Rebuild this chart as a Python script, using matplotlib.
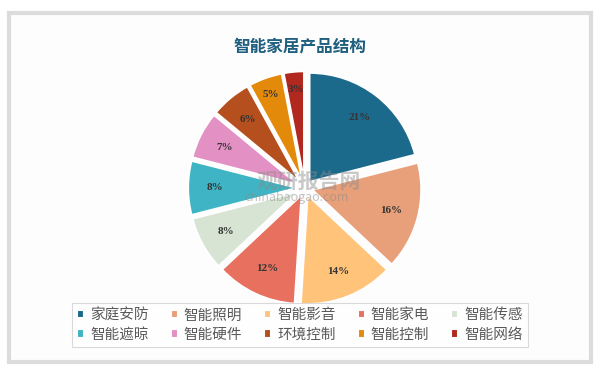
import numpy as np
import matplotlib.pyplot as plt
from matplotlib.patches import Rectangle

plt.rcParams['font.family'] = ['Noto Sans CJK SC', 'DejaVu Sans']

categories = ['家庭安防', '智能照明', '智能影音', '智能家电', '智能传感',
              '智能遮晾', '智能硬件', '环境控制', '智能控制', '智能网络']
shares = [21, 16, 14, 12, 8, 8, 7, 6, 5, 3]
colors = ['#1B6A8C', '#E8A07A', '#FFC47A', '#E8705E', '#D7E4D4',
          '#3FB4C4', '#E391C4', '#B5501E', '#E48A0A', '#B0281E']

fig = plt.figure(figsize=(6, 3.77), dpi=100)
fig.patch.set_facecolor('white')

# outer frame in a background axes
bg = fig.add_axes([0, 0, 1, 1], zorder=-5)
bg.add_patch(Rectangle((0.015, 0.04), 0.97, 0.925, facecolor='#fdfdfd',
                       edgecolor='#dcdcdc', linewidth=3))
bg.set_xlim(0, 1)
bg.set_ylim(0, 1)
bg.axis('off')

fig.text(0.5, 0.877, '智能家居产品结构', ha='center', va='center',
         fontsize=12, fontweight='bold', color='#1E5E7E')

ax = fig.add_axes([0.308, 0.183, 0.4, 0.637])
wedges, texts = ax.pie(shares, colors=colors, startangle=90, counterclock=False,
                       explode=[0.07] * len(shares),
                       wedgeprops=dict(edgecolor='white', linewidth=1.5))
for w, v in zip(wedges, shares):
    ang = np.deg2rad((w.theta1 + w.theta2) / 2)
    r = 0.75 if v > 5 else 0.84
    cx, cy = w.center
    ax.text(cx + r * np.cos(ang), cy + r * np.sin(ang), f'{v}%',
            ha='center', va='center', fontsize=8, fontweight='bold',
            family='Liberation Serif', color='#333333')
ax.set_xlim(-1.1, 1.1)
ax.set_ylim(-1.1, 1.1)
ax.set_aspect('equal')
ax.axis('off')

# watermark on top of the pie
fig.text(0.515, 0.52, '观研报告网', ha='center', va='center', fontsize=15,
         fontweight='bold', color='#8a8a8a', alpha=0.45, zorder=10)
fig.text(0.495, 0.475, 'chinabaogao.com', ha='center', va='center', fontsize=9,
         color='#8a8a8a', alpha=0.5, zorder=10)

# legend fills column-wise, reorder so it reads row by row
order = [0, 5, 1, 6, 2, 7, 3, 8, 4, 9]
leg = fig.legend([wedges[i] for i in order], [categories[i] for i in order],
                 loc='center', bbox_to_anchor=(0.5, 0.138),
                 ncol=5, fontsize=10.5, frameon=True, fancybox=False,
                 handlelength=0.5, handleheight=0.5, handletextpad=0.4,
                 columnspacing=1.5, labelspacing=0.35, borderpad=0.35)
leg.get_frame().set_edgecolor('#d0d0d0')
leg.get_frame().set_linewidth(0.8)
for t in leg.get_texts():
    t.set_color('#595959')

plt.savefig('out.png', dpi=100)
